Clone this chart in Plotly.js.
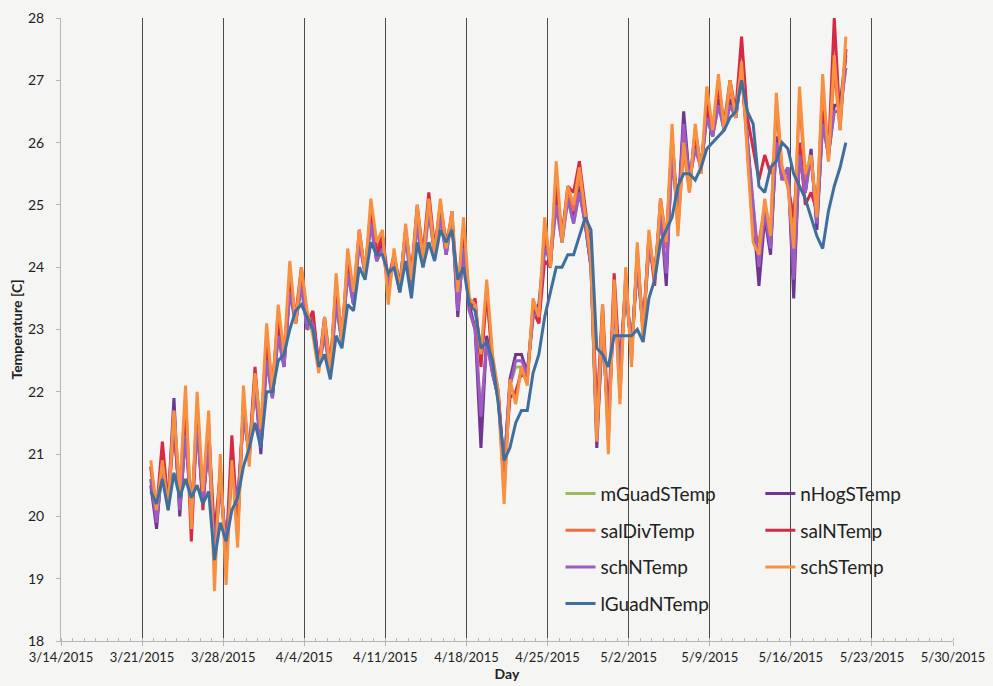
<!DOCTYPE html>
<html>
<head>
<meta charset="utf-8">
<script src="https://cdn.plot.ly/plotly-3.0.1.min.js"></script>
<style>
  html, body { margin: 0; padding: 0; background: #f5f5f3; }
  #chart { width: 993px; height: 686px; }
</style>
</head>
<body>
<div id="chart"></div>
<script>
// Logger readings: first sample 3/21/2015 18:00, then one reading every 12 hours
// (alternating ~06:00 lows and ~18:00 highs) through 5/20/2015.
const seriesStart = '2015-03-21T18:00:00Z';
const stepHours = 12;

const seriesNames = ['mGuadSTemp', 'nHogSTemp', 'salDivTemp', 'salNTemp', 'schNTemp', 'schSTemp', 'lGuadNTemp'];

const mGuadSTemp = [20.6,
  19.9,20.8, 20.2,21.6, 20.1,21.3, 20.1,21.4, 20.3,21.1, 19.5,20.5, 19.5,20.7,
  20.2,21.6, 21.0,22.1, 21.1,22.5, 21.9,22.9, 22.4,23.6, 23.1,23.7, 23.0,23.1,
  22.4,22.9, 22.3,23.4, 22.8,23.9, 23.4,24.4, 23.9,24.7, 24.1,24.3, 23.8,24.1,
  23.6,24.5, 23.7,24.7, 24.0,24.9, 24.2,24.8, 24.2,24.8, 23.3,24.3, 23.3,23.0,
  21.6,22.8, 22.3,21.9, 20.8,22.1, 22.4,22.4, 22.3,23.2, 23.3,24.3, 24.1,25.0,
  24.4,25.1, 24.7,25.2, 24.7,24.0, 21.3,23.0, 21.5,23.4, 22.4,23.6, 22.7,24.0,
  23.0,24.3, 23.9,24.8, 23.9,25.8, 24.8,26.3, 25.4,25.9, 25.6,26.4, 26.1,26.6,
  26.2,26.6, 26.4,27.1, 26.0,25.0, 24.0,24.9, 24.3,26.0, 25.4,25.6, 23.8,25.8,
  25.2,25.8, 24.7,26.3, 25.8,26.5, 26.5,27.2];

const nHogSTemp = [20.5,
  19.8,20.9, 20.2,21.9, 20.0,21.4, 20.1,21.5, 20.3,21.2, 19.4,20.6, 19.5,20.8,
  20.2,21.7, 21.0,22.2, 21.0,22.6, 21.9,23.0, 22.4,23.7, 23.1,23.8, 23.0,23.2,
  22.4,23.0, 22.4,23.5, 22.8,24.0, 23.4,24.5, 23.9,24.8, 24.1,24.4, 23.7,24.2,
  23.7,24.6, 23.8,24.8, 24.1,25.0, 24.3,24.9, 24.2,24.9, 23.2,24.4, 23.4,23.0,
  21.1,22.9, 22.3,21.9, 20.7,22.2, 22.6,22.6, 22.3,23.3, 23.4,24.4, 24.2,25.1,
  24.5,25.2, 24.8,25.3, 24.7,24.0, 21.1,23.1, 21.4,23.5, 22.4,23.7, 22.7,24.1,
  23.0,24.4, 23.9,24.9, 23.7,26.0, 24.8,26.5, 25.4,26.0, 25.6,26.5, 26.1,26.7,
  26.2,26.7, 26.4,27.2, 26.0,24.8, 23.7,24.8, 24.2,26.1, 25.4,25.6, 23.5,25.9,
  25.2,25.9, 24.6,26.4, 25.8,26.6, 26.6,27.4];

const salDivTemp = [20.8,
  20.0,21.0, 20.2,21.4, 20.3,21.9, 19.9,21.8, 20.2,21.5, 19.2,20.8, 19.2,21.1,
  19.7,21.9, 20.9,22.3, 21.3,22.9, 22.0,23.3, 22.5,23.9, 23.1,23.9, 23.2,23.2,
  22.4,23.1, 22.4,23.7, 22.8,24.1, 23.5,24.5, 23.9,24.9, 24.3,24.5, 23.6,24.2,
  23.6,24.6, 23.8,24.9, 24.1,25.0, 24.2,25.0, 24.3,24.8, 23.5,24.6, 23.4,23.4,
  22.5,23.6, 22.5,21.9, 20.4,22.1, 21.9,22.4, 22.2,23.4, 23.1,24.6, 24.0,25.5,
  24.4,25.2, 24.9,25.5, 24.8,24.1, 21.4,23.3, 21.2,23.7, 21.9,23.9, 22.5,24.3,
  22.9,24.5, 23.8,25.0, 24.3,26.1, 24.6,25.9, 25.2,26.2, 25.5,26.7, 26.1,27.0,
  26.2,26.9, 26.4,27.2, 25.9,24.6, 24.4,25.0, 24.6,26.6, 25.5,25.4, 24.5,26.7,
  25.4,25.7, 24.9,26.9, 25.7,27.2, 26.2,27.5];

const salNTemp = [20.8,
  20.1,21.2, 20.2,21.5, 20.2,21.8, 19.6,21.6, 20.1,21.4, 19.7,20.7, 19.4,21.3,
  19.8,21.8, 21.0,22.4, 21.2,22.8, 22.1,23.2, 22.5,23.8, 23.2,24.0, 23.1,23.3,
  22.4,23.2, 22.4,23.7, 22.9,24.1, 23.5,24.6, 23.9,24.9, 24.2,24.5, 23.8,24.2,
  23.7,24.6, 23.9,25.0, 24.2,25.2, 24.3,25.0, 24.4,24.8, 23.5,24.6, 23.3,23.5,
  22.4,23.6, 22.5,22.0, 20.7,21.9, 22.0,22.3, 22.2,23.3, 23.1,24.1, 24.0,25.3,
  24.5,25.3, 25.2,25.7, 24.9,24.2, 21.6,23.4, 21.5,23.9, 22.3,23.8, 22.6,24.2,
  23.0,24.5, 23.7,25.1, 24.4,26.1, 24.8,26.2, 25.3,26.2, 25.6,26.6, 26.2,26.9,
  26.3,27.0, 26.5,27.7, 26.4,25.9, 25.4,25.8, 25.5,25.9, 25.6,25.3, 24.8,26.0,
  25.0,25.2, 24.9,26.5, 25.8,28.0, 26.3,27.5];

const schNTemp = [20.6,
  19.9,20.8, 20.2,21.7, 20.1,21.3, 20.1,21.4, 20.3,21.1, 19.5,20.5, 19.5,20.7,
  20.2,21.6, 21.0,22.1, 21.1,22.5, 21.9,22.9, 22.4,23.6, 23.1,23.7, 23.0,23.1,
  22.4,22.9, 22.3,23.4, 22.8,23.9, 23.4,24.4, 23.9,24.7, 24.1,24.3, 23.7,24.1,
  23.6,24.5, 23.7,24.7, 24.0,24.9, 24.2,24.8, 24.2,24.8, 23.3,24.3, 23.3,23.0,
  21.6,22.8, 22.3,21.9, 20.8,22.1, 22.5,22.5, 22.3,23.2, 23.3,24.3, 24.1,25.0,
  24.4,25.1, 24.7,25.2, 24.7,24.0, 21.3,23.0, 21.5,23.4, 22.4,23.6, 22.7,24.0,
  23.0,24.3, 23.9,24.8, 23.9,25.8, 24.8,26.3, 25.4,25.9, 25.6,26.4, 26.1,26.6,
  26.2,26.6, 26.4,27.1, 26.0,25.0, 24.0,24.9, 24.3,26.0, 25.4,25.6, 23.8,25.8,
  25.2,25.8, 24.7,26.3, 25.8,26.5, 26.5,27.2];

const schSTemp = [20.9,
  20.1,20.9, 20.1,21.7, 20.4,22.1, 19.8,22.0, 20.4,21.7, 18.8,21.0, 18.9,20.9,
  19.5,22.1, 20.8,22.3, 21.4,23.1, 22.0,23.4, 22.6,24.1, 23.1,24.0, 23.3,22.9,
  22.3,23.2, 22.3,23.9, 22.8,24.3, 23.6,24.6, 23.9,25.1, 24.4,24.6, 23.4,24.3,
  23.6,24.7, 23.8,25.0, 24.1,25.1, 24.2,25.1, 24.3,24.9, 23.6,24.8, 23.5,23.4,
  22.6,23.8, 22.6,22.0, 20.2,22.2, 21.8,22.4, 22.1,23.5, 23.2,24.8, 24.0,25.7,
  24.4,25.3, 25.0,25.6, 24.8,24.1, 21.2,23.4, 21.0,23.8, 21.8,24.0, 22.4,24.4,
  22.8,24.6, 23.8,25.1, 24.4,26.3, 24.5,26.0, 25.2,26.3, 25.5,26.9, 26.2,27.1,
  26.2,27.0, 26.4,27.3, 25.8,24.4, 24.2,25.1, 24.5,26.8, 25.6,25.3, 24.3,26.9,
  25.5,25.8, 24.8,27.1, 25.7,27.4, 26.2,27.7];

const lGuadNTemp = [20.4,
  20.2,20.6, 20.1,20.7, 20.3,20.6, 20.3,20.5, 20.2,20.4, 19.3,19.9, 19.6,20.1,
  20.3,20.8, 21.1,21.5, 21.1,22.0, 22.0,22.5, 22.6,23.0, 23.3,23.4, 23.2,23.0,
  22.4,22.6, 22.2,22.9, 22.7,23.4, 23.3,24.0, 23.8,24.4, 24.2,24.2, 23.9,24.0,
  23.6,24.1, 23.5,24.4, 24.0,24.4, 24.1,24.6, 24.4,24.6, 23.8,24.0, 23.4,23.3,
  22.7,22.8, 22.5,21.8, 20.9,21.1, 21.5,21.7, 21.7,22.3, 22.6,23.2, 23.6,24.0,
  24.0,24.2, 24.2,24.5, 24.8,24.6, 22.7,22.6, 22.4,22.9, 22.9,22.9, 22.9,23.0,
  22.8,23.5, 23.8,24.4, 24.6,24.8, 25.3,25.5, 25.5,25.4, 25.6,25.9, 26.0,26.1,
  26.2,26.4, 26.5,27.0, 26.5,26.3, 25.3,25.2, 25.6,25.7, 26.0,25.9, 25.5,25.3,
  25.1,24.8, 24.5,24.3, 24.9,25.3, 25.6,26.0];

const seriesValues = [mGuadSTemp, nHogSTemp, salDivTemp, salNTemp, schNTemp, schSTemp, lGuadNTemp];
const seriesColors = ['#9bbb59', '#6e3591', '#f26a3e', '#d42a45', '#9c5cc4', '#f7903f', '#3f6f9e'];
// two legend columns, filled row by row
const seriesLegend = ['legend', 'legend2', 'legend', 'legend2', 'legend', 'legend2', 'legend'];

function sampleTimes(n) {
  const t0 = Date.parse(seriesStart);
  const out = [];
  for (let i = 0; i < n; i++) {
    out.push(new Date(t0 + i * stepHours * 3600000).toISOString().slice(0, 16).replace('T', ' '));
  }
  return out;
}

const traces = seriesNames.map((name, i) => ({
  type: 'scatter',
  mode: 'lines',
  name: name,
  x: sampleTimes(seriesValues[i].length),
  y: seriesValues[i],
  line: { color: seriesColors[i], width: 3 },
  legend: seriesLegend[i],
  legendgroup: name
}));

const textFont = 'Lato, "Open Sans", "DejaVu Sans", sans-serif';
const legendBase = {
  orientation: 'v',
  traceorder: 'grouped',
  tracegroupgap: 9,
  itemwidth: 30,
  bgcolor: 'rgba(0,0,0,0)',
  borderwidth: 0,
  font: { family: textFont, size: 19, color: '#222' },
  xanchor: 'left',
  yanchor: 'top'
};

const layout = {
  width: 993,
  height: 686,
  margin: { l: 61, r: 40, t: 18, b: 45 },
  paper_bgcolor: '#f5f5f3',
  plot_bgcolor: '#f5f5f3',
  font: { family: textFont, size: 14, color: '#222' },
  showlegend: true,
  legend: Object.assign({}, legendBase, { x: 0.560, y: 0.267 }),
  legend2: Object.assign({}, legendBase, { x: 0.784, y: 0.267 }),
  xaxis: {
    type: 'date',
    range: ['2015-03-14', '2015-05-30'],
    tick0: '2015-03-14',
    dtick: 7 * 86400000,
    tickformat: '%-m/%-d/%Y',
    showgrid: true,
    gridcolor: '#4a4a4a',
    gridwidth: 1,
    showline: true,
    linecolor: '#b5b5b5',
    linewidth: 1,
    ticks: 'outside',
    ticklen: 4,
    tickcolor: '#b5b5b5',
    minor: { dtick: 86400000, ticks: 'inside', ticklen: 3, tickcolor: '#b5b5b5', showgrid: false },
    tickfont: { family: textFont, size: 13, color: '#222' },
    title: { text: '<b>Day</b>', font: { family: textFont, size: 14, color: '#222' }, standoff: 2 },
    zeroline: false,
    fixedrange: true
  },
  yaxis: {
    range: [18, 28],
    dtick: 1,
    showgrid: false,
    showline: true,
    linecolor: '#b5b5b5',
    linewidth: 1,
    ticks: 'outside',
    ticklen: 4,
    tickcolor: '#b5b5b5',
    ticklabelstandoff: 9,
    tickfont: { family: textFont, size: 14, color: '#222' },
    title: { text: '<b>Temperature [C]</b>', font: { family: textFont, size: 14, color: '#222' }, standoff: 2 },
    zeroline: false,
    fixedrange: true
  }
};

Plotly.newPlot('chart', traces, layout, { staticPlot: true, displayModeBar: false });
</script>
</body>
</html>
